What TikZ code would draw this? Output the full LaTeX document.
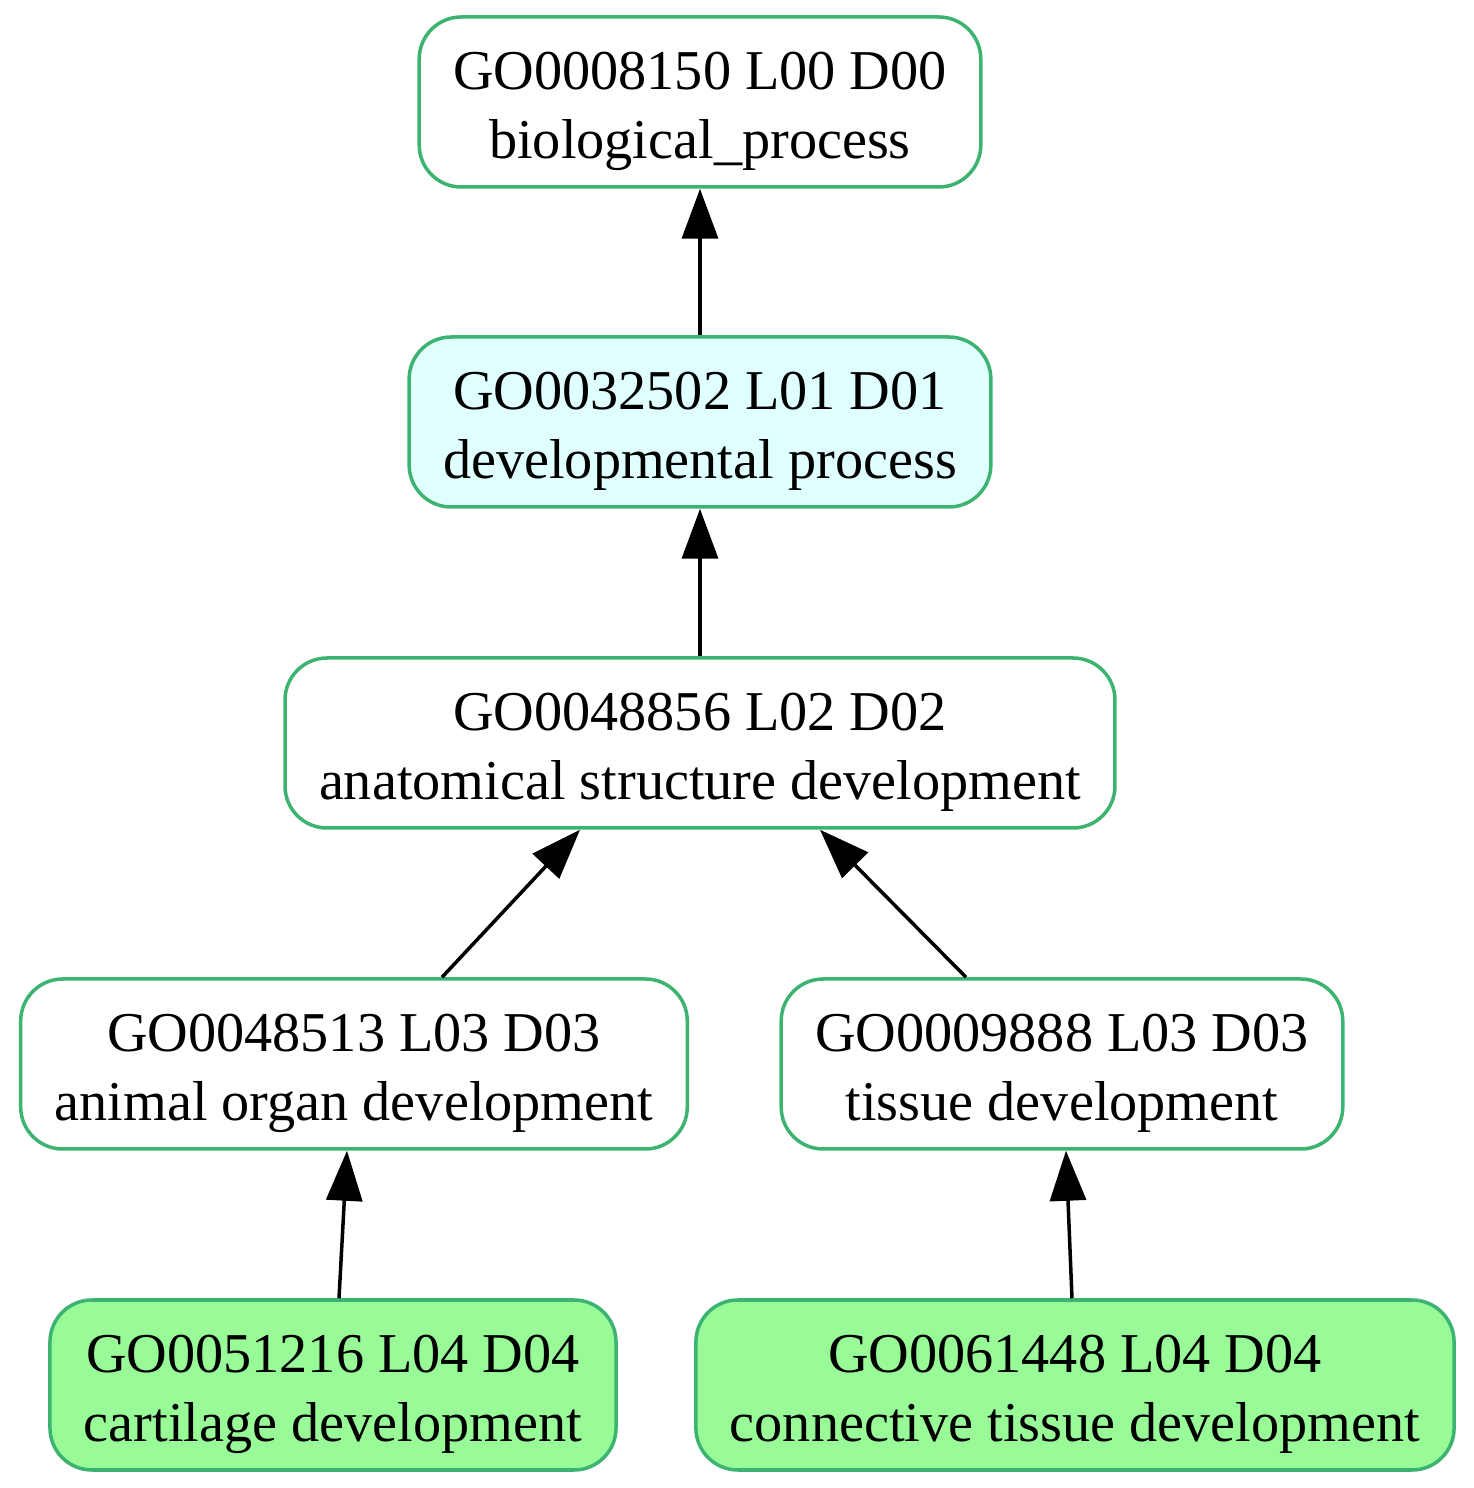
\documentclass[tikz,border=0pt]{standalone}
\usepackage{fontspec}
\setmainfont{Liberation Serif}
\usepackage{tikz}
\usetikzlibrary{arrows.meta}
\usepackage{xcolor}
\definecolor{goborder}{RGB}{60,179,113}
\definecolor{golightcyan}{RGB}{224,255,255}
\definecolor{gopalegreen}{RGB}{152,251,152}
\tikzset{
  goterm/.style={draw=goborder, line width=0.035cm, rounded corners=0.42cm,
    fill=white, align=center, minimum height=1.70cm, inner xsep=0.34cm,
    text height=32.8pt, text depth=0.9pt,
    font=\fontsize{16}{19.4}\selectfont},
  isa/.style={line width=0.035cm, -{Triangle[length=0.5cm,width=0.36cm]}}
}

\begin{document}
\begin{tikzpicture}
        \useasboundingbox (0,0) rectangle (14.74,14.88);
        \node[goterm] (go0008150) at (7.00,13.86) {GO0008150 L00 D00\\biological\_process};
        \node[goterm, fill=golightcyan] (go0032502) at (7.00,10.66) {GO0032502 L01 D01\\developmental process};
        \node[goterm] (go0048856) at (7.00,7.45) {GO0048856 L02 D02\\anatomical structure development};
        \node[goterm] (go0048513) at (3.54,4.24) {GO0048513 L03 D03\\animal organ development};
        \node[goterm] (go0009888) at (10.62,4.24) {GO0009888 L03 D03\\tissue development};
        \node[goterm, fill=gopalegreen] (go0051216) at (3.33,1.03) {GO0051216 L04 D04\\cartilage development};
        \node[goterm, fill=gopalegreen] (go0061448) at (10.75,1.03) {GO0061448 L04 D04\\connective tissue development};
        % is_a edges
        \draw[isa] (go0032502.north) -- (go0008150.south);
        \draw[isa] (go0048856.north) -- (go0032502.south);
        \draw[isa] ([xshift=0.88cm]go0048513.north) -- ([xshift=-1.20cm]go0048856.south);
        \draw[isa] ([xshift=-0.96cm]go0009888.north) -- ([xshift=1.20cm]go0048856.south);
        \draw[isa] ([xshift=0.06cm]go0051216.north) -- ([xshift=-0.07cm]go0048513.south);
        \draw[isa] ([xshift=-0.03cm]go0061448.north) -- ([xshift=0.04cm]go0009888.south);
      \end{tikzpicture}
\end{document}
